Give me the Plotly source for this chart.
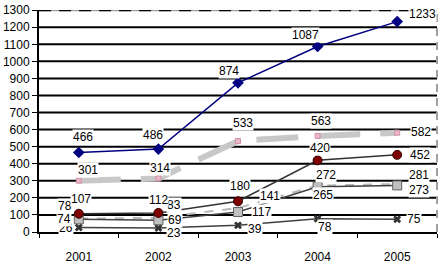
import plotly.graph_objects as go

years = ["2001", "2002", "2003", "2004", "2005"]
s_blue = [466, 486, 874, 1087, 1233]
s_gray_dash = [301, 314, 533, 563, 582]
s_red = [107, 112, 180, 420, 452]
s_light = [78, 83, 141, 272, 281]
s_square = [74, 69, 117, 265, 273]
s_star = [26, 23, 39, 78, 75]
y_ticks = list(range(0, 1301, 100))

# label offsets in pixels (dx right, dy down) - styling only
label_offsets = {
    "blue": [(4, -15), (-5, -14), (-9, -12), (-12, -12), (25, -8)],
    "gray_dash": [(9, -11), (2, -10), (5, -18), (3, -15), (24, -1)],
    "light": [(-14, -13), (16, -13), (32, -12), (8, -11), (22, -9)],
    "red": [(2, -15), (0, -13), (2, -15), (2, -12), (23, 0)],
    "square": [(-15, 0), (17, 0), (23, 0), (5, 8), (22, 5)],
    "star": [(-13, 0), (16, 5), (17, 4), (7, 8), (17, 0)],
}

FONT = "Liberation Sans, Arial, sans-serif"
fig = go.Figure()

fig.add_trace(go.Scatter(x=years, y=s_gray_dash, mode="lines+markers",
                         line=dict(color="#C8C8C8", width=6, dash="42px,20px"),
                         marker=dict(symbol="square", size=5, color="#E8B8C8",
                                     line=dict(color="#D090A8", width=1))))
fig.add_trace(go.Scatter(x=years, y=s_light, mode="lines",
                         line=dict(color="#B8B8B8", width=2, dash="dash")))
fig.add_trace(go.Scatter(x=years, y=s_star, mode="lines+markers",
                         line=dict(color="#404040", width=1.5),
                         marker=dict(symbol="x", size=7, color="#333333")))
fig.add_trace(go.Scatter(x=years, y=s_square, mode="lines+markers",
                         line=dict(color="#404040", width=1.5),
                         marker=dict(symbol="square", size=9, color="#C0C0C0",
                                     line=dict(color="#606060", width=1))))
fig.add_trace(go.Scatter(x=years, y=s_red, mode="lines+markers",
                         line=dict(color="#333333", width=1.5),
                         marker=dict(symbol="circle", size=9, color="#800000",
                                     line=dict(color="#300000", width=1))))
fig.add_trace(go.Scatter(x=years, y=s_blue, mode="lines+markers",
                         line=dict(color="#000080", width=1.5),
                         marker=dict(symbol="diamond", size=9, color="#000080")))

# gridlines from tick values
shapes = []
for v in y_ticks[1:]:
    if v == 1300:
        shapes.append(dict(type="line", xref="paper", yref="y", x0=0, x1=1, y0=v, y1=v,
                           line=dict(color="#A0A0A0", width=2), layer="below"))
        shapes.append(dict(type="line", xref="paper", yref="y", x0=0, x1=1, y0=v, y1=v,
                           line=dict(color="black", width=2, dash="12px,8px"), layer="below"))
    else:
        shapes.append(dict(type="line", xref="paper", yref="y", x0=0, x1=1, y0=v, y1=v,
                           line=dict(color="black", width=2), layer="below"))
shapes.append(dict(type="line", xref="paper", yref="paper", x0=1, x1=1, y0=0, y1=1,
                   line=dict(color="#A0A0A0", width=2, dash="8px,6px"), layer="below"))

annotations = []
series_order = [("gray_dash", s_gray_dash), ("light", s_light), ("star", s_star),
                ("square", s_square), ("red", s_red), ("blue", s_blue)]
for name, vals in series_order:
    for i, v in enumerate(vals):
        dx, dy = label_offsets[name][i]
        annotations.append(dict(x=i, y=v, xref="x", yref="y", text=str(v),
                                showarrow=False, xshift=dx, yshift=-dy,
                                bgcolor="white", borderpad=0,
                                font=dict(family=FONT, size=12, color="black")))

fig.update_layout(
    width=440, height=267,
    margin=dict(l=30, r=3, t=6, b=24),
    paper_bgcolor="white", plot_bgcolor="white",
    showlegend=False,
    shapes=shapes, annotations=annotations,
    font=dict(family=FONT, size=12, color="black"),
)
fig.update_xaxes(type="category", categoryorder="array", categoryarray=years,
                 range=[-0.5, 4.5], showgrid=False, showline=True, linecolor="black",
                 linewidth=2, ticks="outside", tickson="boundaries", ticklen=4,
                 tickcolor="black", tickfont=dict(family=FONT, size=12),
                 ticklabelstandoff=13, ticklabeloverflow="allow")
fig.update_yaxes(range=[0, 1301], tickvals=y_ticks, showgrid=False, zeroline=False,
                 showline=True, linecolor="black", linewidth=2, ticks="outside",
                 ticklen=5, tickcolor="black", tickfont=dict(family=FONT, size=12),
                 ticklabeloverflow="allow")

fig.write_html("out.html", config={"displayModeBar": False},
               post_script="document.body.style.margin='0';")
